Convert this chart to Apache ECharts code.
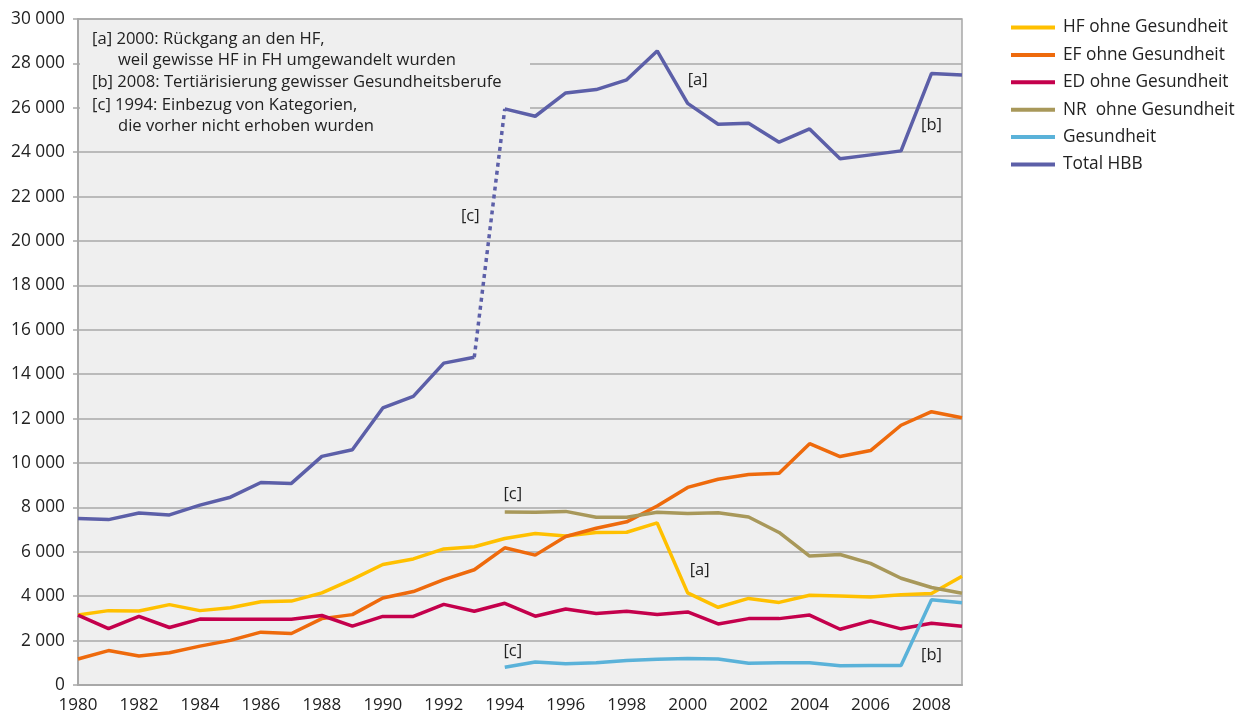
<!DOCTYPE html>
<html>
<head>
<meta charset="utf-8">
<script src="https://cdn.jsdelivr.net/npm/echarts@6/dist/echarts.min.js"></script>
<style>
  html, body { margin: 0; padding: 0; background: #fff; }
  #chart { width: 1243px; height: 715px; }
</style>
</head>
<body>
<div id="chart"></div>
<script>
var years = ['1980','1981','1982','1983','1984','1985','1986','1987','1988','1989',
             '1990','1991','1992','1993','1994','1995','1996','1997','1998','1999',
             '2000','2001','2002','2003','2004','2005','2006','2007','2008','2009'];

var hfOhne = [3150, 3350, 3330, 3620, 3350, 3480, 3750, 3780, 4150, 4760,
              5430, 5680, 6130, 6230, 6600, 6820, 6710, 6870, 6880, 7300,
              4150, 3500, 3900, 3720, 4040, 4010, 3960, 4070, 4120, 4900];
var efOhne = [1170, 1550, 1310, 1450, 1750, 2010, 2380, 2320, 2990, 3170,
              3920, 4210, 4750, 5190, 6180, 5850, 6690, 7060, 7350, 8060,
              8900, 9270, 9480, 9540, 10870, 10290, 10560, 11700, 12310, 12040];
var edOhne = [3150, 2540, 3090, 2590, 2970, 2960, 2960, 2960, 3130, 2650,
              3090, 3090, 3630, 3320, 3680, 3100, 3420, 3220, 3320, 3180,
              3290, 2750, 2990, 2990, 3150, 2510, 2890, 2530, 2780, 2650];
var nrOhne = [null, null, null, null, null, null, null, null, null, null,
              null, null, null, null, 7790, 7780, 7820, 7560, 7560, 7780,
              7730, 7760, 7570, 6870, 5810, 5880, 5480, 4810, 4390, 4130];
var gesundheit = [null, null, null, null, null, null, null, null, null, null,
                  null, null, null, null, 800, 1040, 960, 1000, 1100, 1160,
                  1190, 1170, 980, 1000, 1000, 870, 880, 880, 3840, 3700];
var totalHbb = [7500, 7450, 7750, 7660, 8100, 8460, 9120, 9080, 10300, 10600,
                12480, 13000, 14500, 14760, 25950, 25620, 26670, 26820, 27260, 28560,
                26200, 25260, 25300, 24450, 25050, 23700, 23880, 24060, 27550, 27480];

var yTicks = [0, 2000, 4000, 6000, 8000, 10000, 12000, 14000, 16000, 18000, 20000,
              22000, 24000, 26000, 28000, 30000];

var noteLines = [
  '[a] 2000: Rückgang an den HF,',
  'weil gewisse HF in FH umgewandelt wurden',
  '[b] 2008: Tertiärisierung gewisser Gesundheitsberufe',
  '[c] 1994: Einbezug von Kategorien,',
  'die vorher nicht erhoben wurden'
];

// Bruch 1993/1994: vorher und nachher durchgezogen, dazwischen gepunktet
var breakIdx = years.indexOf('1994');
var totalBefore = totalHbb.map(function (v, i) { return i < breakIdx ? v : null; });
var totalAfter = totalHbb.map(function (v, i) { return i >= breakIdx ? v : null; });
var totalJump = totalHbb.map(function (v, i) { return (i === breakIdx - 1 || i === breakIdx) ? v : null; });

var FONT = '"Open Sans", "Noto Sans", sans-serif';
var colors = {
  hf: '#ffc000', ef: '#ee6a0c', ed: '#c4004c', nr: '#a8985a', ge: '#5ab2d9', total: '#5c5fa8'
};

function note(text, year, value, dx, dy) {
  return {
    coord: [year, value],
    symbol: 'circle', symbolSize: 1,
    itemStyle: { color: 'rgba(0,0,0,0)' },
    label: { show: true, position: 'inside', formatter: text, offset: [dx || 0, dy || 0],
             color: '#222', fontSize: 16.5, fontFamily: FONT }
  };
}

function lineSeries(name, data, color, extra) {
  var s = {
    name: name, type: 'line', data: data,
    symbol: 'none', connectNulls: false,
    lineStyle: { color: color, width: 3.5 },
    itemStyle: { color: color },
    emphasis: { disabled: true },
    z: 3
  };
  for (var k in extra) s[k] = extra[k];
  return s;
}

var markCfg = function (items) {
  return { silent: true, animation: false, data: items };
};

var myChart = echarts.init(document.getElementById('chart'), null, { renderer: 'canvas' });

var option = {
  animation: false,
  color: [colors.hf, colors.ef, colors.ed, colors.nr, colors.ge, colors.total],
  grid: {
    left: 78, right: 281, top: 19, bottom: 30,
    show: true, backgroundColor: '#efefef', borderColor: '#a8a8a8', borderWidth: 1.5
  },
  legend: {
    left: 1006, top: 14, orient: 'vertical',
    itemWidth: 44, itemHeight: 16, itemGap: 10.4,
    icon: 'path://M0,0h44v4h-44z',
    data: ['HF ohne Gesundheit', 'EF ohne Gesundheit', 'ED ohne Gesundheit',
           'NR  ohne Gesundheit', 'Gesundheit', 'Total HBB'],
    textStyle: { color: '#222', fontSize: 17.3, fontFamily: FONT, padding: [0, 0, 0, 3] },
    selectedMode: false
  },
  xAxis: {
    type: 'category', data: years, boundaryGap: false,
    axisLine: { show: true, lineStyle: { color: '#a8a8a8', width: 2 } },
    axisTick: { show: false },
    axisLabel: { interval: 1, margin: 12, color: '#222', fontSize: 17, fontFamily: FONT },
    splitLine: { show: false }
  },
  yAxis: {
    type: 'value', min: 0, max: 30000, interval: 2000,
    axisLine: { show: true, lineStyle: { color: '#a8a8a8', width: 2 } },
    axisTick: { show: true, length: 5, lineStyle: { color: '#a8a8a8', width: 1.5 } },
    axisLabel: {
      margin: 13, color: '#222', fontSize: 17.3, fontFamily: FONT,
      formatter: function (v) {
        return yTicks.indexOf(v) >= 0 ? String(v).replace(/\B(?=(\d{3})+(?!\d))/g, ' ') : '';
      }
    },
    splitLine: { show: true, lineStyle: { color: '#a8a8a8', width: 1.5 } }
  },
  graphic: [
    {
      type: 'rect', left: 80, top: 21, z: 2,
      shape: { width: 450, height: 126 },
      style: { fill: '#efefef' }
    }
  ].concat(noteLines.map(function (t, i) {
    var ys = [31, 52, 74, 97, 118];
    var xs = [92, 118, 92, 92, 118];
    return {
      type: 'text', left: xs[i], top: ys[i], z: 3,
      style: { text: t, fill: '#222', fontSize: 16.6, fontFamily: FONT }
    };
  })),
  series: [
    lineSeries('HF ohne Gesundheit', hfOhne, colors.hf, {
      markPoint: markCfg([note('[a]', '2000', 5150, 12, 0)])
    }),
    lineSeries('EF ohne Gesundheit', efOhne, colors.ef),
    lineSeries('ED ohne Gesundheit', edOhne, colors.ed),
    lineSeries('NR  ohne Gesundheit', nrOhne, colors.nr, {
      markPoint: markCfg([note('[c]', '1994', 8600, 8, 0)])
    }),
    lineSeries('Gesundheit', gesundheit, colors.ge, {
      markPoint: markCfg([note('[c]', '1994', 1530, 8, 0), note('[b]', '2008', 1350, 0, 0)])
    }),
    lineSeries('Total HBB', totalBefore, colors.total),
    lineSeries('Total HBB', totalAfter, colors.total, {
      markPoint: markCfg([note('[a]', '2000', 27250, 10, 0), note('[b]', '2008', 25200, 0, 0)])
    }),
    lineSeries('Total HBB', totalJump, colors.total, {
      lineStyle: { color: colors.total, width: 3.5, type: [4, 4] },
      markPoint: markCfg([note('[c]', '1993', 21100, -4, 0)])
    })
  ]
};

myChart.setOption(option);
</script>
</body>
</html>
